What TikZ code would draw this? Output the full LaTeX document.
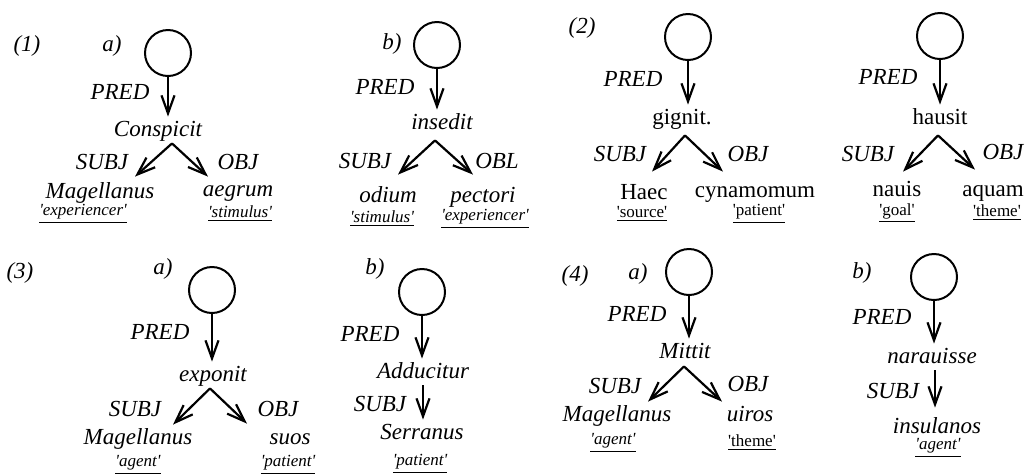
\documentclass[tikz,border=0pt]{standalone}
\usepackage{fontspec}
\setmainfont{Liberation Serif}
\usepackage{tikz}
\usetikzlibrary{calc}
\usetikzlibrary{arrows.meta}

\newcommand{\semrole}[1]{\underline{\textquotesingle#1\textquotesingle}}

\begin{document}
\begin{tikzpicture}[x=0.5pt, y=-0.5pt,
            ring/.style={circle, draw, line width=1pt, minimum size=23pt, inner sep=0pt},
            wd/.style={font=\fontsize{11.5}{13}\selectfont\itshape, inner sep=1pt, text height=8.5pt, text depth=2.5pt},
            rm/.style={wd, font=\fontsize{11.5}{13}\selectfont\upshape},
            role/.style={font=\fontsize{8.5}{9}\selectfont\itshape, inner sep=1pt},
            rrole/.style={role, font=\fontsize{8.5}{9}\selectfont\upshape},
            arr/.style={-{Straight Barb[length=9pt,width=6.5pt]}, line width=1.1pt}
        ]
            \useasboundingbox (0,0) rectangle (1027,473);

            \node[wd] (num1) at (27,45) {(1)};
            \node[wd] (lab1a) at (112,45) {a)};
            \node[ring] (c1a) at (168,53) {};
            \node[wd] (pred1a) at (120,93) {PRED};
            \node[wd] (v1a) at (158,130) {Conspicit};
            \node[wd] (subj1a) at (102,163) {SUBJ};
            \node[wd] (obj1a) at (238,163) {OBJ};
            \node[wd] (s1a) at (100,192) {Magellanus};
            \node[wd] (o1a) at (238,190) {aegrum};
            \node[role] (rs1a) at (83,214) {\semrole{experiencer}};
            \node[role] (ro1a) at (240,214) {\semrole{stimulus}};
            \draw[arr] (c1a.south) -- (c1a.south |- v1a.north);
            \draw[arr] ($(v1a.south)+(14,0)$) -- ($(s1a.north)+(35,-2)$);
            \draw[arr] ($(v1a.south)+(14,0)$) -- ($(o1a.north)+(-30,0)$);

            \node[wd] (lab1b) at (392,43) {b)};
            \node[ring] (c1b) at (437,45) {};
            \node[wd] (pred1b) at (385,88) {PRED};
            \node[wd] (v1b) at (442,123) {insedit};
            \node[wd] (subj1b) at (365,162) {SUBJ};
            \node[wd] (obl1b) at (497,162) {OBL};
            \node[wd] (s1b) at (388,196) {odium};
            \node[wd] (o1b) at (483,196) {pectori};
            \node[role] (rs1b) at (382,219) {\semrole{stimulus}};
            \node[role] (ro1b) at (485,219) {\semrole{experiencer}};
            \draw[arr] (c1b.south) -- (c1b.south |- v1b.north);
            \draw[arr] ($(v1b.south)+(-7,4)$) -- ($(s1b.north)+(10,-8)$);
            \draw[arr] ($(v1b.south)+(-7,4)$) -- ($(o1b.north)+(-10,-8)$);

            \node[wd] (num2) at (582,27) {(2)};
            \node[ring] (c2a) at (688,37) {};
            \node[wd] (pred2a) at (633,80) {PRED};
            \node[rm] (v2a) at (682,118) {gignit.};
            \node[wd] (subj2a) at (620,155) {SUBJ};
            \node[wd] (obj2a) at (748,155) {OBJ};
            \node[rm] (s2a) at (644,193) {Haec};
            \node[rm] (o2a) at (755,191) {cynamomum};
            \node[rrole] (rs2a) at (642,214) {\semrole{source}};
            \node[rrole] (ro2a) at (759,214) {\semrole{patient}};
            \draw[arr] (c2a.south) -- (c2a.south |- v2a.north);
            \draw[arr] ($(v2a.south)+(3,4)$) -- ($(s2a.north)+(8,-8)$);
            \draw[arr] ($(v2a.south)+(3,4)$) -- ($(o2a.north)+(-32,-6)$);

            \node[ring] (c2b) at (940,36) {};
            \node[wd] (pred2b) at (888,78) {PRED};
            \node[rm] (v2b) at (940,118) {hausit};
            \node[wd] (subj2b) at (868,155) {SUBJ};
            \node[wd] (obj2b) at (1003,153) {OBJ};
            \node[rm] (s2b) at (897,190) {nauis};
            \node[rm] (o2b) at (993,190) {aquam};
            \node[rrole] (rs2b) at (897,213) {\semrole{goal}};
            \node[rrole] (ro2b) at (997,213) {\semrole{theme}};
            \draw[arr] (c2b.south) -- (c2b.south |- v2b.north);
            \draw[arr] ($(v2b.south)+(-2,4)$) -- ($(s2b.north)+(6,-5)$);
            \draw[arr] ($(v2b.south)+(-2,4)$) -- ($(o2b.north)+(-18,-7)$);

            \node[wd] (num3) at (20,272) {(3)};
            \node[wd] (lab3a) at (163,268) {a)};
            \node[ring] (c3a) at (212,290) {};
            \node[wd] (pred3a) at (160,333) {PRED};
            \node[wd] (v3a) at (213,375) {exponit};
            \node[wd] (subj3a) at (135,410) {SUBJ};
            \node[wd] (obj3a) at (278,410) {OBJ};
            \node[wd] (s3a) at (138,438) {Magellanus};
            \node[wd] (o3a) at (290,438) {suos};
            \node[role] (rs3a) at (138,465) {\semrole{agent}};
            \node[role] (ro3a) at (288,465) {\semrole{patient}};
            \draw[arr] (c3a.south) -- (c3a.south |- v3a.north);
            \draw[arr] ($(v3a.south)+(-3,0)$) -- ($(s3a.north)+(35,0)$);
            \draw[arr] ($(v3a.south)+(-3,0)$) -- ($(o3a.north)+(-43,-1)$);

            \node[wd] (lab3b) at (375,268) {b)};
            \node[ring] (c3b) at (422,292) {};
            \node[wd] (pred3b) at (370,335) {PRED};
            \node[wd] (v3b) at (423,372) {Adducitur};
            \node[wd] (subj3b) at (380,405) {SUBJ};
            \node[wd] (s3b) at (422,433) {Serranus};
            \node[role] (rs3b) at (420,464) {\semrole{patient}};
            \draw[arr] (c3b.south) -- (c3b.south |- v3b.north);
            \draw[arr] (v3b.south) -- (v3b.south |- s3b.north);

            \node[wd] (num4) at (575,275) {(4)};
            \node[wd] (lab4a) at (638,273) {a)};
            \node[ring] (c4a) at (689,272) {};
            \node[wd] (pred4a) at (637,315) {PRED};
            \node[wd] (v4a) at (685,352) {Mittit};
            \node[wd] (subj4a) at (615,387) {SUBJ};
            \node[wd] (obj4a) at (748,385) {OBJ};
            \node[wd] (s4a) at (617,415) {Magellanus};
            \node[wd] (o4a) at (750,415) {uiros};
            \node[role] (rs4a) at (613,443) {\semrole{agent}};
            \node[rrole] (ro4a) at (752,443) {\semrole{theme}};
            \draw[arr] (c4a.south) -- (c4a.south |- v4a.north);
            \draw[arr] ($(v4a.south)+(-1,1)$) -- ($(s4a.north)+(31,0)$);
            \draw[arr] ($(v4a.south)+(-1,1)$) -- ($(o4a.north)+(-28,0)$);

            \node[wd] (lab4b) at (862,272) {b)};
            \node[ring] (c4b) at (934,277) {};
            \node[wd] (pred4b) at (882,318) {PRED};
            \node[wd] (v4b) at (932,357) {narauisse};
            \node[wd] (subj4b) at (893,392) {SUBJ};
            \node[wd] (s4b) at (937,427) {insulanos};
            \node[role] (rs4b) at (938,448) {\semrole{agent}};
            \draw[arr] (c4b.south) -- (c4b.south |- v4b.north);
            \draw[arr] ($(v4b.south)+(3,0)$) -- ($(s4b.north)+(-2,-6)$);
        \end{tikzpicture}
\end{document}
